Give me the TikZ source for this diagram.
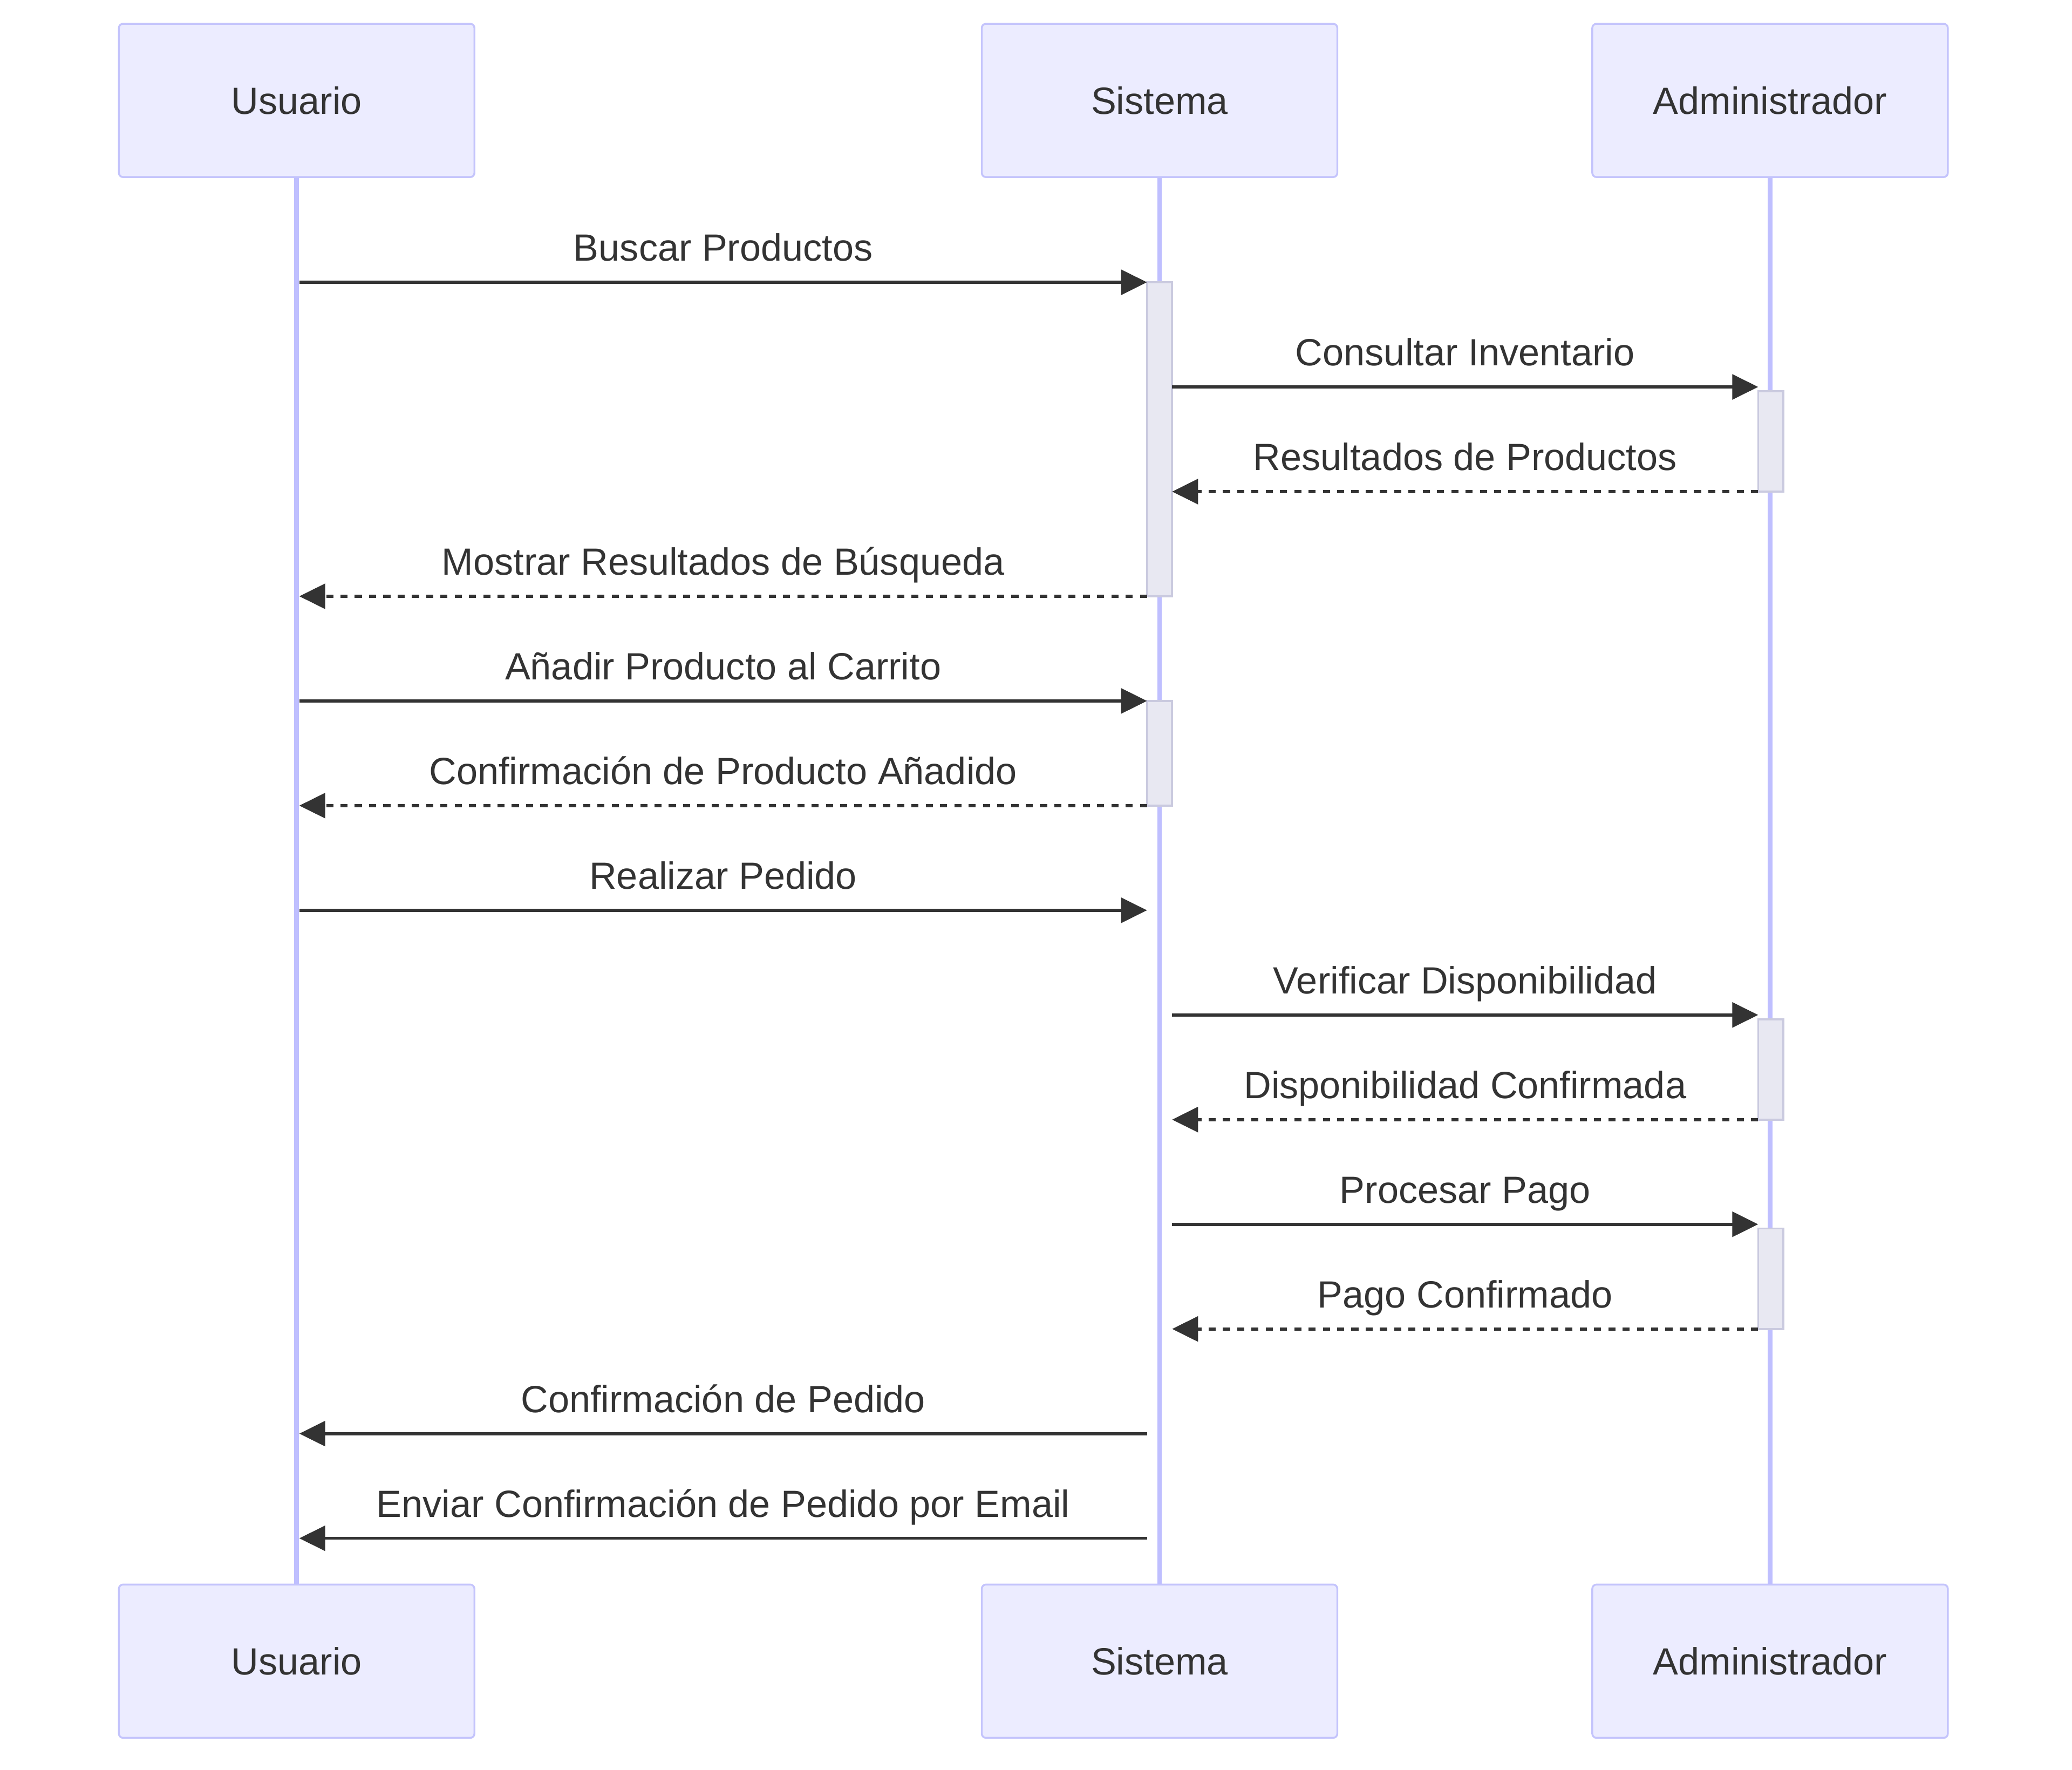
\documentclass[tikz,border=0pt]{standalone}
\usepackage{fontspec}
\setmainfont{Liberation Sans}
\usetikzlibrary{arrows.meta,fit}
\definecolor{actorfill}{HTML}{ECECFF}
\definecolor{actorline}{HTML}{C4C4FC}
\definecolor{lifecol}{HTML}{BFBFFF}
\definecolor{actfill}{HTML}{E8E8F2}
\definecolor{actline}{HTML}{CACADF}
\definecolor{inkgray}{HTML}{333333}
\tikzstyle{actorbox} = [draw=actorline, fill=actorfill, line width=1pt,
    rectangle, rounded corners=0.08cm, minimum width=6.725cm,
    minimum height=2.9cm, text=inkgray, inner sep=0pt]
\tikzstyle{lifeline} = [draw=lifecol, line width=2.5pt]
\tikzstyle{activebox} = [draw=actline, fill=actfill, line width=1.1pt, inner sep=0pt]
\tikzstyle{callmsg} = [draw=inkgray, line width=1.65pt,
    -{Triangle[length=0.49cm,width=0.47cm]}]
\tikzstyle{replymsg} = [callmsg, dash pattern=on 0.135cm off 0.135cm]
\tikzstyle{msgtext} = [text=inkgray, anchor=base, yshift=0.4cm, inner sep=0pt]

\begin{document}
\begin{tikzpicture}[x=0.025cm, y=-0.025cm, font=\fontsize{20.4}{24}\selectfont]
    \useasboundingbox (0,0) rectangle (1568,1339);
    % actors
    \node[actorbox] (usrTop) at (224.5,76) {Usuario};
    \node[actorbox] (sisTop) at (877.5,76) {Sistema};
    \node[actorbox] (admTop) at (1339.5,76) {Administrador};
    \node[actorbox] (usrBot) at (224.5,1257) {Usuario};
    \node[actorbox] (sisBot) at (877.5,1257) {Sistema};
    \node[actorbox] (admBot) at (1339.5,1257) {Administrador};
    \draw[lifeline] (usrTop.south) -- (usrBot.north);
    \draw[lifeline] (sisTop.south) -- (sisBot.north);
    \draw[lifeline] (admTop.south) -- (admBot.north);
    % activations
    \node[activebox, fit={(868,213.6) (887,451.2)}] (actS1) {};
    \node[activebox, fit={(868,530.4) (887,609.6)}] (actS2) {};
    \node[activebox, fit={(1330.5,296) (1349.5,372)}] (actA1) {};
    \node[activebox, fit={(1330.5,771.2) (1349.5,847.2)}] (actA2) {};
    \node[activebox, fit={(1330.5,929.6) (1349.5,1005.6)}] (actA3) {};
    % message ends and rows
    \coordinate (usrR) at (226.5,0);
    \coordinate (sisL) at (868,0);
    \coordinate (sisR) at (887,0);
    \coordinate (admL) at (1330.5,0);
    \coordinate (r1) at (0,213.6);  \coordinate (r2) at (0,292.8);
    \coordinate (r3) at (0,372);    \coordinate (r4) at (0,451.2);
    \coordinate (r5) at (0,530.4);  \coordinate (r6) at (0,609.6);
    \coordinate (r7) at (0,688.8);  \coordinate (r8) at (0,768);
    \coordinate (r9) at (0,847.2);  \coordinate (r10) at (0,926.4);
    \coordinate (r11) at (0,1005.6); \coordinate (r12) at (0,1084.8);
    \coordinate (r13) at (0,1164);
    % messages
    \draw[callmsg] (usrR |- r1) -- node[msgtext] (t1) {Buscar Productos} (sisL |- r1);
    \draw[callmsg] (sisR |- r2) -- node[msgtext] (t2) {Consultar Inventario} (admL |- r2);
    \draw[replymsg] (admL |- r3) -- node[msgtext] (t3) {Resultados de Productos} (sisR |- r3);
    \draw[replymsg] (sisL |- r4) -- node[msgtext] (t4) {Mostrar Resultados de Búsqueda} (usrR |- r4);
    \draw[callmsg] (usrR |- r5) -- node[msgtext] (t5) {Añadir Producto al Carrito} (sisL |- r5);
    \draw[replymsg] (sisL |- r6) -- node[msgtext] (t6) {Confirmación de Producto Añadido} (usrR |- r6);
    \draw[callmsg] (usrR |- r7) -- node[msgtext] (t7) {Realizar Pedido} (sisL |- r7);
    \draw[callmsg] (sisR |- r8) -- node[msgtext] (t8) {Verificar Disponibilidad} (admL |- r8);
    \draw[replymsg] (admL |- r9) -- node[msgtext] (t9) {Disponibilidad Confirmada} (sisR |- r9);
    \draw[callmsg] (sisR |- r10) -- node[msgtext] (t10) {Procesar Pago} (admL |- r10);
    \draw[replymsg] (admL |- r11) -- node[msgtext] (t11) {Pago Confirmado} (sisR |- r11);
    \draw[callmsg] (sisL |- r12) -- node[msgtext] (t12) {Confirmación de Pedido} (usrR |- r12);
    \draw[callmsg] (sisL |- r13) -- node[msgtext] (t13) {Enviar Confirmación de Pedido por Email} (usrR |- r13);
\end{tikzpicture}
\end{document}
